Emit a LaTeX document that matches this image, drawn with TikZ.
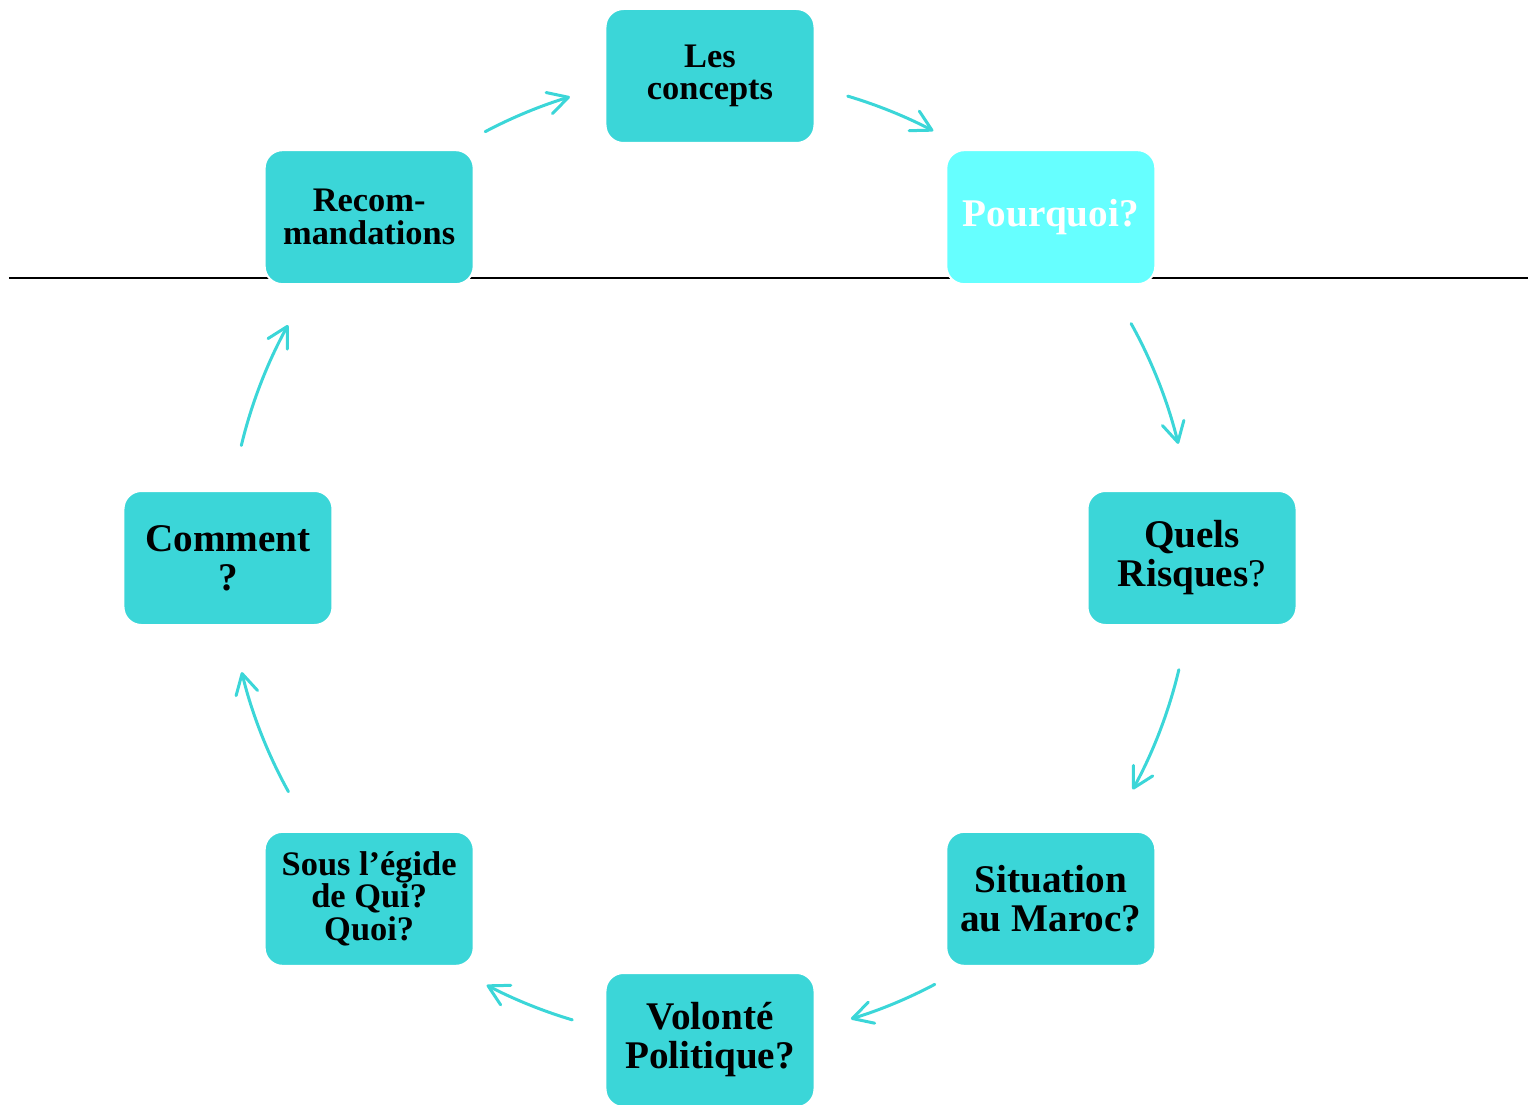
\documentclass[tikz,border=0pt]{standalone}
\usepackage{fontspec}
\setmainfont{Liberation Serif}
\usepackage{xcolor}
\usetikzlibrary{arrows.meta}

\definecolor{turq}{RGB}{59,214,216}
\definecolor{aqua}{RGB}{102,255,255}

\begin{document}
\begin{tikzpicture}[x=0.5pt,y=0.5pt,
  box/.style={rounded corners=9pt, fill=turq, draw=white, line width=1pt,
    minimum width=104.5pt, minimum height=67pt, inner sep=0pt, align=center,
    font=\bfseries\fontsize{19.6}{19.5}\selectfont},
  smallbox/.style={box, font=\bfseries\fontsize{17.2}{16.3}\selectfont},
  cyc/.style={draw=turq, line width=1.5pt, line cap=round, looseness=0.85,
    -{Straight Barb[length=10pt,width=11pt,round]}}]
\useasboundingbox (-710,-546) rectangle (827,558);

% dividing line
\coordinate (left) at (-701,280);
\coordinate (right) at (818,280);
\draw[line width=1pt] (left) -- (right);

% the eight steps
\node[smallbox] (concepts) at (90:482) {Les\\concepts};
\node[box, fill=aqua, text=white] (pourquoi) at (45:482) {Pourquoi?};
\node[box] (risques) at (0:482) {Quels\\Risques{\mdseries ?}};
\node[box] (maroc) at (-45:482) {Situation\\au Maroc?};
\node[box] (volonte) at (-90:482) {Volonté\\Politique?};
\node[smallbox] (egide) at (-135:482) {Sous l’égide\\de Qui?\\Quoi?};
\node[box] (comment) at (180:482) {Comment\\?};
\node[smallbox] (recom) at (135:482) {Recom-\\mandations};

% arrow ends
\coordinate (a1) at (73.4:482);   \coordinate (b1) at (62.4:482);
\coordinate (a2) at (29.1:482);   \coordinate (b2) at (13.7:482);
\coordinate (a3) at (-13.4:482);  \coordinate (b3) at (-28.7:482);
\coordinate (a4) at (-62.2:482);  \coordinate (b4) at (-73:482);
\coordinate (a5) at (-106.6:482); \coordinate (b5) at (-117.6:482);
\coordinate (a6) at (-151:482);   \coordinate (b6) at (-166.3:482);
\coordinate (a7) at (166.5:482);  \coordinate (b7) at (151.1:482);
\coordinate (a8) at (117.8:482);  \coordinate (b8) at (106.9:482);

\draw[cyc] (a1) to[bend left=5.5] (b1);
\draw[cyc] (a2) to[bend left=7.7] (b2);
\draw[cyc] (a3) to[bend left=7.7] (b3);
\draw[cyc] (a4) to[bend left=5.5] (b4);
\draw[cyc] (a5) to[bend left=5.5] (b5);
\draw[cyc] (a6) to[bend left=7.7] (b6);
\draw[cyc] (a7) to[bend left=7.7] (b7);
\draw[cyc] (a8) to[bend left=5.5] (b8);
\end{tikzpicture}
\end{document}
